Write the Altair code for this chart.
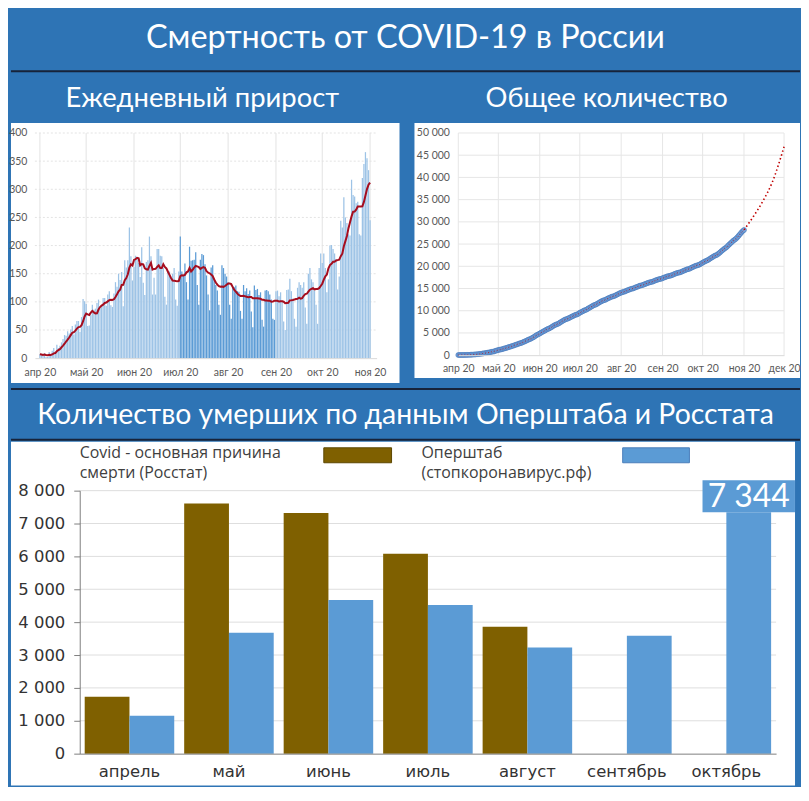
import altair as alt
import pandas as pd

# ---------------- data ----------------
apr_daily = [7, 6, 4, 9, 2, 2, 11, 5, 13, 18, 12, 24, 18, 22, 28, 34, 41, 40, 48, 44,
             51, 57, 42, 60, 66, 66, 47, 73, 105, 101]
may_daily = [96, 57, 58, 76, 95, 86, 88, 98, 104, 88, 94, 107, 107, 93, 113, 119, 94, 91, 115, 135,
             127, 150, 139, 153, 92, 174, 161, 174, 232, 181, 138]
jun_daily = [162, 182, 178, 169, 144, 197, 134, 112, 171, 174, 216, 181, 113, 143, 113, 194, 194, 182, 181, 161,
             109, 95, 153, 154, 143, 150, 160, 104, 93, 154]
jul_daily = [216, 154, 147, 168, 135, 104, 198, 173, 174, 175, 188, 130, 95, 175, 185, 183, 167, 147, 113, 85,
             161, 165, 140, 130, 120, 95, 77, 165, 160, 150, 145]
aug_daily = [135, 95, 70, 128, 126, 129, 119, 118, 84, 70, 130, 119, 124, 114, 120, 83, 55, 129, 121, 123,
             112, 117, 68, 56, 120, 121, 119, 113, 104, 70, 68]
sep_daily = [119, 120, 110, 117, 103, 65, 50, 121, 122, 141, 119, 106, 70, 56, 125, 135, 130, 125, 135, 90,
             61, 150, 160, 140, 135, 120, 95, 61, 160, 186]
oct_daily = [169, 186, 160, 117, 140, 200, 201, 194, 186, 176, 122, 145, 244, 232, 286, 250, 240, 220, 218, 317,
             290, 287, 275, 278, 220, 218, 320, 345, 366, 355, 334]
nov_daily = [245]
deaths_before_april = 17

daily = apr_daily + may_daily + jun_daily + jul_daily + aug_daily + sep_daily + oct_daily + nov_daily

left_month_starts = ["2020-%02d-01T00:00:00" % m for m in range(4, 12)]
right_month_starts = ["2020-%02d-01T00:00:00" % m for m in range(4, 13)]

trend_dates = ["2020-11-01T00:00:00", "2020-11-08T00:00:00", "2020-11-15T00:00:00",
               "2020-11-22T00:00:00", "2020-12-01T00:00:00"]
trend_values = [28200, 31200, 34600, 38800, 46900]

daily_ticks = [0, 50, 100, 150, 200, 250, 300, 350, 400]
total_ticks = [0, 5000, 10000, 15000, 20000, 25000, 30000, 35000, 40000, 45000, 50000]

months_ru = ["апрель", "май", "июнь", "июль", "август", "сентябрь", "октябрь"]
rosstat = [1730, 7610, 7320, 6080, 3860, None, None]
opershtab = [1150, 3680, 4670, 4525, 3230, 3585, 7344]
bar_ticks = [0, 1000, 2000, 3000, 4000, 5000, 6000, 7000, 8000]

legend_rosstat = ["Covid - основная причина", "смерти (Росстат)"]
legend_oper = ["Оперштаб", "(стопкоронавирус.рф)"]

# ---------------- styles ----------------
BG = "#2e74b5"
DARK = "#17233a"
TFONT = "Lato"
LBL = "#595959"
W = 792
WHITE_VIEW = alt.ViewBackground(fill="white", stroke=None)

dates = pd.date_range("2020-04-01", periods=len(daily), freq="D").strftime("%Y-%m-%dT%H:%M:%S")
daily_df = pd.DataFrame({"date": list(dates), "deaths": daily})
dummy = pd.DataFrame({"a": [0]})

MONTH_EXPR = ("['янв','фев','мар','апр','май','июн','июл','авг','сен','окт','ноя','дек']"
              "[month(datum.value)] + ' 20'")
NUM_EXPR = "replace(format(datum.value, ','), ',', ' ')"


def vtext(txt, x, y, size, color, font, align="left"):
    return alt.Chart(dummy).mark_text(
        text=txt, align=align, baseline="middle", fontSize=size, color=color, font=font
    ).encode(x=alt.value(x), y=alt.value(y))


def vrect(x, x2, y, y2, color, stroke):
    return alt.Chart(dummy).mark_rect(color=color, stroke=stroke, strokeWidth=1).encode(
        x=alt.value(x), x2=alt.value(x2), y=alt.value(y), y2=alt.value(y2))


def vrule(x, x2, y, width, color=DARK):
    return alt.Chart(dummy).mark_rule(color=color, strokeWidth=width).encode(
        x=alt.value(x), x2=alt.value(x2), y=alt.value(y))


def dt(y, m, d):
    return alt.DateTime(year=y, month=m, date=d)


# ---------------- row A: main title ----------------
rowA = alt.layer(
    vtext("Смертность от COVID-19 в России", W / 2, 29, 32.5, "white", TFONT, "center"),
    vrule(0, W, 62, 2),
).properties(width=W, height=63)

# ---------------- row B: subtitles ----------------
rowB = alt.layer(
    vtext("Ежедневный прирост", 192, 27, 27.5, "white", TFONT, "center"),
    vtext("Общее количество", 598, 27, 27.5, "white", TFONT, "center"),
).properties(width=W, height=51)

# ---------------- left chart: daily ----------------
LW, LH = 390, 261          # white panel
LX0, LX1 = 24, 367         # plot range in x
LY0, LY1 = 236, 10         # plot range in y (value 0 -> 400)
lx = alt.X("date:T",
           scale=alt.Scale(domain=[dt(2020, 4, 1), dt(2020, 11, 2)], range=[LX0, LX1]),
           axis=alt.Axis(values=[dt(2020, m, 1) for m in range(4, 12)], labelExpr=MONTH_EXPR,
                         title=None, grid=False, ticks=False, domainColor="#d9d9d9", offset=LY0 - LH,
                         labelFont=TFONT, labelFontSize=10.5, labelColor=LBL, labelPadding=9,
                         labelFlush=False, labelOverlap=False, labelBound=False, zindex=1))


def ly(field):
    return alt.Y(field + ":Q", scale=alt.Scale(domain=[0, 400], nice=False, range=[LY0, LY1]),
                 axis=alt.Axis(values=daily_ticks, title=None, grid=False, ticks=False, domain=False,
                               labelFont=TFONT, labelFontSize=10.5, labelColor=LBL, labelPadding=8,
                               offset=-LX0, zindex=1))


left_hgrid = alt.Chart(pd.DataFrame({"deaths": daily_ticks[1:]})).mark_rule(
    color="#e3e3e3", strokeDash=[2, 2]).encode(y=ly("deaths"), x=alt.value(LX0), x2=alt.value(LX1))
left_vgrid = alt.Chart(pd.DataFrame({"date": left_month_starts})).mark_rule(
    color="#e3e3e3").encode(x=lx, y=alt.value(LY1), y2=alt.value(LY0))
bars_base = alt.Chart(daily_df).transform_calculate(summer="month(datum.date) == 6 || month(datum.date) == 7")
left_bars_light = bars_base.transform_filter("!datum.summer").mark_bar(size=1.25, color="#9dc3e6").encode(
    x=lx, y=ly("deaths"))
left_bars_dark = bars_base.transform_filter("datum.summer").mark_bar(size=1.25, color="#5b9bd5").encode(
    x=lx, y=ly("deaths"))
left_ma = alt.Chart(daily_df).transform_window(
    ma="mean(deaths)", frame=[-6, 0], sort=[alt.SortField("date")]
).mark_line(color="#a50d1e", strokeWidth=2).encode(x=lx, y=ly("ma"))

left = alt.layer(left_hgrid, left_vgrid, left_bars_light, left_bars_dark, left_ma).properties(
    width=LW, height=LH, view=WHITE_VIEW)

# ---------------- right chart: cumulative ----------------
RW, RH = 387, 256
RX0, RX1 = 44, 371
RY0, RY1 = 233, 10
rx = alt.X("date:T",
           scale=alt.Scale(domain=[dt(2020, 4, 1), dt(2020, 12, 1)], range=[RX0, RX1]),
           axis=alt.Axis(values=[dt(2020, m, 1) for m in range(4, 13)], labelExpr=MONTH_EXPR,
                         title=None, grid=False, ticks=False, domainColor="#d9d9d9", offset=RY0 - RH,
                         labelFont=TFONT, labelFontSize=10.5, labelColor=LBL, labelPadding=8,
                         labelFlush=False, labelOverlap=False, labelBound=False, zindex=1))
ry = alt.Y("total:Q", scale=alt.Scale(domain=[0, 50000], nice=False, range=[RY0, RY1]),
           axis=alt.Axis(values=total_ticks, labelExpr=NUM_EXPR, title=None, grid=False, ticks=False,
                         domain=False, labelFont=TFONT, labelFontSize=10.5, labelColor=LBL,
                         labelPadding=9, offset=-RX0, zindex=1))

right_hgrid = alt.Chart(pd.DataFrame({"total": total_ticks[1:]})).mark_rule(
    color="#e6e6e6").encode(y=ry, x=alt.value(RX0), x2=alt.value(RX1))
right_vgrid = alt.Chart(pd.DataFrame({"date": right_month_starts})).mark_rule(
    color="#e6e6e6").encode(x=rx, y=alt.value(RY1), y2=alt.value(RY0))
cum_base = alt.Chart(daily_df).transform_window(
    cum="sum(deaths)", frame=[None, 0], sort=[alt.SortField("date")]
).transform_calculate(total="datum.cum + %d" % deaths_before_april)
right_pts = cum_base.mark_circle(size=24, color="#79a6dc", opacity=1, stroke="#4a7bbd",
                                 strokeWidth=0.7).encode(x=rx, y=ry)
right_dots = cum_base.mark_line(color="#c00000", strokeWidth=1, strokeDash=[1, 2],
                                opacity=0.7).encode(x=rx, y=ry)
right_trend = alt.Chart(pd.DataFrame({"date": trend_dates, "total": trend_values})).mark_line(
    color="#c00000", strokeWidth=1.6, strokeDash=[1.5, 2.5], interpolate="monotone").encode(x=rx, y=ry)

right = alt.layer(right_hgrid, right_vgrid, right_pts, right_dots, right_trend).properties(
    width=RW, height=RH, view=WHITE_VIEW)

rowC = alt.hconcat(left, right, spacing=15)

# ---------------- row D: second title ----------------
rowD = alt.layer(
    vrule(0, W, 6, 2),
    vtext("Количество умерших по данным Оперштаба и Росстата", W / 2, 32, 28.5, "white", TFONT, "center"),
    vrule(0, W, 57, 2),
).properties(width=W, height=59)

# ---------------- row E: monthly bars ----------------
EW, EH = 787, 345
EX0, EX1 = 69, 768
EY0, EY1 = 313, 49
bar_df = pd.DataFrame({
    "month": months_ru * 2,
    "source": ["rosstat"] * len(months_ru) + ["oper"] * len(months_ru),
    "value": rosstat + opershtab,
}).dropna()

bx = alt.X("month:N", sort=months_ru,
           scale=alt.Scale(domain=months_ru, paddingInner=0.1, paddingOuter=0.05, range=[EX0, EX1]),
           axis=alt.Axis(title=None, labelAngle=0, ticks=False, domainColor="#7f7f7f", offset=EY0 - EH,
                         labelFont="DejaVu Sans", labelFontSize=16.5, labelColor="#333333",
                         labelPadding=10, zindex=1))
bxo = alt.XOffset("source:N", scale=alt.Scale(domain=["rosstat", "oper"], paddingInner=0, paddingOuter=0))
by = alt.Y("value:Q", scale=alt.Scale(domain=[0, 8000], nice=False, range=[EY0, EY1]),
           axis=alt.Axis(values=bar_ticks, labelExpr=NUM_EXPR, title=None, grid=False,
                         domainColor="#7f7f7f", tickColor="#7f7f7f", tickSize=6, offset=-EX0,
                         labelFont="DejaVu Sans", labelFontSize=16.5, labelColor="#333333",
                         labelPadding=9, zindex=1))

bar_grid = alt.Chart(pd.DataFrame({"value": bar_ticks[1:]})).mark_rule(color="#dedede").encode(
    y=by, x=alt.value(EX0), x2=alt.value(EX1))
bars_rosstat = alt.Chart(bar_df).transform_filter("datum.source == 'rosstat'").mark_bar(
    color="#7f6000").encode(x=bx, xOffset=bxo, y=by)
bars_oper = alt.Chart(bar_df).transform_filter("datum.source == 'oper'").mark_bar(
    color="#5b9bd5").encode(x=bx, xOffset=bxo, y=by)
oct_label = alt.Chart(bar_df).transform_filter(
    "datum.month == 'октябрь' && datum.source == 'oper'"
).transform_calculate(label=NUM_EXPR)
label_box = oct_label.mark_point(shape="M-1.45,-0.5H1.45V0.5H-1.45Z", size=4096, filled=True,
                                 color="#5b9bd5", opacity=1, yOffset=-16).encode(x=bx, xOffset=bxo, y=by)
label_txt = oct_label.mark_text(color="white", font=TFONT, fontSize=32, yOffset=-15,
                                baseline="middle").encode(x=bx, xOffset=bxo, y=by, text="label:N")

LEG_FONT = "Open Sans"
LEG_SIZE = 16
legend_layers = [
    vtext(legend_rosstat[0], EX0, 11.5, LEG_SIZE, "#404040", LEG_FONT),
    vtext(legend_rosstat[1], EX0, 31.5, LEG_SIZE, "#404040", LEG_FONT),
    vrect(314, 382, 6, 21, "#7f6000", "#5c4600"),
    vtext(legend_oper[0], 412, 11.5, LEG_SIZE, "#404040", LEG_FONT),
    vtext(legend_oper[1], 412, 31.5, LEG_SIZE, "#404040", LEG_FONT),
    vrect(614, 681, 6, 21, "#5b9bd5", "#4a7ebb"),
]

rowE = alt.layer(bar_grid, bars_rosstat, bars_oper, label_box, label_txt, *legend_layers).properties(
    width=EW, height=EH, view=WHITE_VIEW)

chart = alt.vconcat(rowA, rowB, rowC, rowD, rowE, spacing=0).properties(
    background=BG, padding=0
).configure_view(stroke=None)

chart.save("out.html", embed_options={"renderer": "svg", "actions": False})
